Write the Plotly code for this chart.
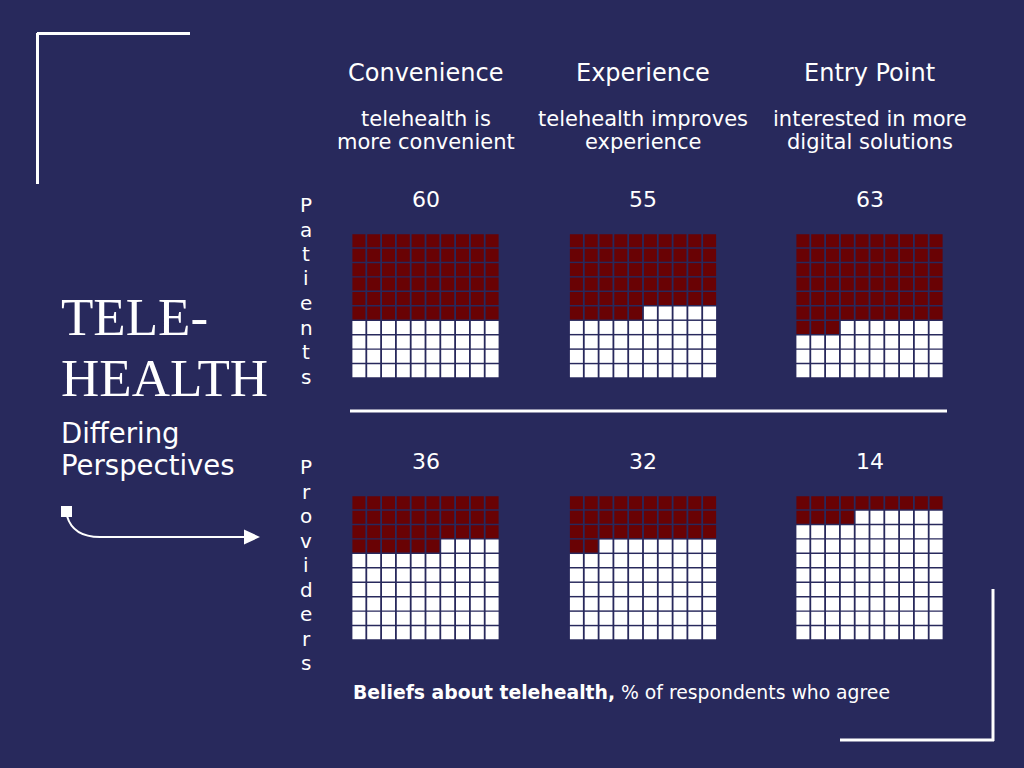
import plotly.graph_objects as go

# ---------------- data ----------------
groups = ["Convenience", "Experience", "Entry Point"]
descriptions = ["telehealth is<br>more convenient",
                "telehealth improves<br>experience",
                "interested in more<br>digital solutions"]
audiences = ["Patients", "Providers"]
patients = [60, 55, 63]
providers = [36, 32, 14]
values = [patients, providers]
title_lines = ["TELE-", "HEALTH"]
subtitle_lines = ["Differing", "Perspectives"]
footer_bold = "Beliefs about telehealth,"
footer_rest = " % of respondents who agree"
grid_cols = 10
grid_rows = 10

# ---------------- style ----------------
W, H = 1024, 768
BG = "#28295c"
RED = "#690204"
WHITE = "#ffffff"
SANS = "'DejaVu Sans', Verdana, sans-serif"
SERIF = "'Liberation Serif', 'DejaVu Serif', serif"

col_x = [(351.5, 499.5), (569.0, 717.0), (795.5, 943.5)]
row_y = [(233.5, 378.0), (495.5, 640.0)]


def px(x, y):
    return x / W, 1 - y / H


fig = go.Figure()
annotations = []
shapes = []


def label(x, y, text, size, family=SANS, xanchor="center"):
    lx, ly = px(x, y)
    annotations.append(dict(x=lx, y=ly, xref="paper", yref="paper", text=text,
                            showarrow=False, xanchor=xanchor, yanchor="middle",
                            align=xanchor,
                            font=dict(family=family, size=size, color=WHITE)))


k = 0
for r, aud_vals in enumerate(values):
    for c, v in enumerate(aud_vals):
        k += 1
        xs, ys, colors = [], [], []
        for i in range(grid_cols * grid_rows):
            xs.append(i % grid_cols)
            ys.append(i // grid_cols)
            colors.append(RED if i < v else WHITE)
        xa = "x" if k == 1 else f"x{k}"
        ya = "y" if k == 1 else f"y{k}"
        fig.add_trace(go.Scatter(
            x=xs, y=ys, mode="markers", xaxis=xa, yaxis=ya,
            marker=dict(symbol="square", size=13, color=colors,
                        line=dict(width=0)),
            hoverinfo="skip", showlegend=False))
        x0, x1 = col_x[c]
        y0, y1 = row_y[r]
        axn = "xaxis" if k == 1 else f"xaxis{k}"
        ayn = "yaxis" if k == 1 else f"yaxis{k}"
        fig.layout[axn] = dict(domain=[x0 / W, x1 / W], range=[-0.5, grid_cols - 0.5],
                               visible=False, fixedrange=True, anchor=ya)
        fig.layout[ayn] = dict(domain=[1 - y1 / H, 1 - y0 / H],
                               range=[grid_rows - 0.5, -0.5],
                               visible=False, fixedrange=True, anchor=xa)
        # value label above grid
        label((x0 + x1) / 2, y0 - 34, str(v), 22)

# column headers
for c, (g, d) in enumerate(zip(groups, descriptions)):
    cx = (col_x[c][0] + col_x[c][1]) / 2
    label(cx, 73, g, 24)
    for j, ln in enumerate(d.split("<br>")):
        label(cx, 119 + j * 23, ln, 21)

# vertical row labels (stacked letters)
for r, aud in enumerate(audiences):
    start = 205 if r == 0 else 467
    for j, ch in enumerate(aud):
        label(306, start + j * 24.5, ch, 20)

# title block
for j, ln in enumerate(title_lines):
    label(59, 317 + j * 61, ln, 53, family=SERIF, xanchor="left")
for j, ln in enumerate(subtitle_lines):
    label(59, 433 + j * 32, ln, 27.5, xanchor="left")

# footer
label(351, 692, f"<b>{footer_bold}</b>{footer_rest}", 18.8, xanchor="left")


def line(xa, ya, xb, yb, w=3):
    p0 = px(xa, ya)
    p1 = px(xb, yb)
    shapes.append(dict(type="line", xref="paper", yref="paper",
                       x0=p0[0], y0=p0[1], x1=p1[0], y1=p1[1],
                       line=dict(color=WHITE, width=w)))


# corner frames
line(37.5, 33, 37.5, 184)
line(37, 33.5, 190, 33.5)
line(993, 589, 993, 741)
line(840, 740, 994, 740)
# separator
line(350, 411, 947, 411)


def path(points, closed=False):
    parts = []
    for i, (x, y) in enumerate(points):
        a, b = px(x, y)
        parts.append(("M" if i == 0 else "L") + f" {a:.5f} {b:.5f}")
    if closed:
        parts.append("Z")
    return " ".join(parts)


# arrow: square, curve and head
q0 = px(61, 506)
q1 = px(72, 517)
shapes.append(dict(type="rect", xref="paper", yref="paper",
                   x0=q0[0], y0=q1[1], x1=q1[0], y1=q0[1],
                   fillcolor=WHITE, line=dict(width=0)))
a0 = px(67, 516)
ac = px(73, 537)
a1 = px(100, 537)
a2 = px(250, 537)
shapes.append(dict(type="path", xref="paper", yref="paper",
                   path=f"M {a0[0]:.5f} {a0[1]:.5f} Q {ac[0]:.5f} {ac[1]:.5f} {a1[0]:.5f} {a1[1]:.5f} L {a2[0]:.5f} {a2[1]:.5f}",
                   line=dict(color=WHITE, width=2)))
shapes.append(dict(type="path", xref="paper", yref="paper",
                   path=path([(244, 529.5), (260, 537), (244, 544.5)], closed=True),
                   fillcolor=WHITE, line=dict(width=0)))

fig.update_layout(width=W, height=H, margin=dict(l=0, r=0, t=0, b=0),
                  paper_bgcolor=BG, plot_bgcolor=BG,
                  annotations=annotations, shapes=shapes,
                  showlegend=False)

fig.write_html("out.html",
               config={"displayModeBar": False, "staticPlot": True},
               post_script="document.body.style.margin='0';document.body.style.background='" + BG + "';")
